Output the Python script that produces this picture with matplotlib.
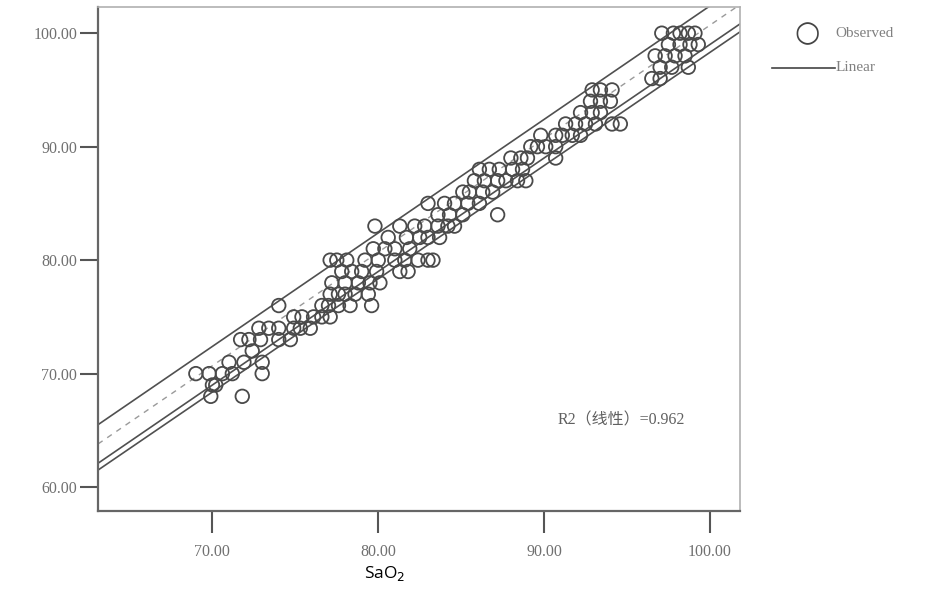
import numpy as np
import matplotlib
matplotlib.use("Agg")
import matplotlib.pyplot as plt

# --- данные ---
# SpO2 уровни (целые) и соответствующие значения SaO2
obs_y = [68, 68,
         69, 69,
         70, 70, 70, 70, 70,
         71, 71, 71,
         72,
         73, 73, 73, 73, 73,
         74, 74, 74, 74, 74, 74,
         75, 75, 75, 75, 75,
         76, 76, 76, 76, 76, 76,
         77, 77, 77, 77, 77,
         78, 78, 78, 78, 78,
         79, 79, 79, 79, 79, 79,
         80, 80, 80, 80, 80, 80, 80, 80, 80, 80,
         81, 81, 81, 81,
         82, 82, 82, 82, 82,
         83, 83, 83, 83, 83, 83, 83,
         84, 84, 84, 84,
         85, 85, 85, 85, 85,
         86, 86, 86, 86,
         87, 87, 87, 87, 87, 87,
         88, 88, 88, 88, 88,
         89, 89, 89, 89,
         90, 90, 90, 90,
         91, 91, 91, 91, 91,
         92, 92, 92, 92, 92, 92,
         93, 93, 93,
         94, 94, 94,
         95, 95, 95,
         96, 96,
         97, 97, 97,
         98, 98, 98, 98,
         99, 99, 99, 99,
         100, 100, 100, 100, 100]
obs_x = [69.9, 71.8,
         70.0, 70.2,
         69.0, 69.8, 70.6, 71.2, 73.0,
         71.0, 71.9, 73.0,
         72.4,
         71.7, 72.2, 72.9, 74.0, 74.7,
         72.8, 73.4, 74.0, 74.9, 75.3, 75.9,
         74.9, 75.4, 76.1, 76.6, 77.1,
         74.0, 76.6, 77.0, 77.6, 78.3, 79.6,
         77.1, 77.6, 78.0, 78.6, 79.4,
         77.2, 78.0, 78.8, 79.5, 80.1,
         77.8, 78.4, 79.0, 79.9, 81.3, 81.8,
         77.1, 77.5, 78.1, 79.2, 80.0, 81.0, 81.6, 82.4, 83.0, 83.3,
         79.7, 80.4, 81.0, 81.9,
         80.6, 81.7, 82.5, 83.0, 83.7,
         79.8, 81.3, 82.2, 82.8, 83.6, 84.2, 84.6,
         83.6, 84.3, 85.1, 87.2,
         83.0, 84.0, 84.6, 85.4, 86.1,
         85.1, 85.5, 86.3, 86.9,
         85.8, 86.4, 87.2, 87.7, 88.4, 88.9,
         86.1, 86.7, 87.3, 88.1, 88.7,
         88.0, 88.6, 89.0, 90.7,
         89.2, 89.6, 90.1, 90.7,
         89.8, 90.7, 91.1, 91.7, 92.2,
         91.3, 91.9, 92.5, 93.1, 94.1, 94.6,
         92.2, 92.9, 93.4,
         92.8, 93.4, 94.0,
         92.9, 93.4, 94.1,
         96.5, 97.0,
         97.0, 97.7, 98.7,
         96.7, 97.3, 97.9, 98.5,
         97.5, 98.2, 98.8, 99.3,
         97.1, 97.8, 98.2, 98.7, 99.1]

# концы линий (x) и значения y на концах
line_x = [63.1, 101.8]
upper_y = [65.5, 104.2]
ref_y = [63.8, 102.5]
lower1_y = [62.1, 100.8]
lower2_y = [61.5, 100.1]

fig = plt.figure(figsize=(9.3, 5.9), dpi=100)
ax = fig.add_axes([0.1054, 0.134, 0.690, 0.854])

ax.scatter(obs_x, obs_y, s=95, facecolors='none', edgecolors='#4a4a4a',
           linewidths=1.3, zorder=3)

ax.plot(line_x, upper_y, color='#505050', lw=1.2)
ax.plot(line_x, ref_y, color='#9a9a9a', lw=1.0, ls=(0, (4, 4)))
ax.plot(line_x, lower1_y, color='#505050', lw=1.2)
ax.plot(line_x, lower2_y, color='#505050', lw=1.2)

ax.set_xlim(63.1, 101.8)
ax.set_ylim(57.9, 102.3)

ax.set_xticks([70, 80, 90, 100])
ax.set_yticks([60, 70, 80, 90, 100])
ax.set_xticklabels(['70.00', '80.00', '90.00', '100.00'])
ax.set_yticklabels(['60.00', '70.00', '80.00', '90.00', '100.00'])

for lab in ax.get_xticklabels() + ax.get_yticklabels():
    lab.set_family('Liberation Serif')
    lab.set_fontsize(11.5)
    lab.set_color('#707070')

ax.tick_params(axis='x', length=16, width=1.5, color='#555555', pad=8)
ax.tick_params(axis='y', length=13, width=1.5, color='#555555', pad=2)

for side in ['top', 'right']:
    ax.spines[side].set_color('#b0b0b0')
    ax.spines[side].set_linewidth(1.2)
for side in ['left', 'bottom']:
    ax.spines[side].set_color('#666666')
    ax.spines[side].set_linewidth(1.6)

ax.text(0.716, 0.18, 'R2（线性）=0.962', transform=ax.transAxes,
        family=['Liberation Serif', 'Noto Sans CJK SC'], fontsize=11.5,
        color='#606060', va='center')

# SaO2 подпись оси
fig.text(0.414, 0.028, 'SaO$_2$', fontsize=12.5, family='Open Sans',
         color='black', ha='center', va='center')

# легенда
fig.text(0.868, 0.944, '○', fontsize=21, color='#444444', ha='center',
         va='center', family='DejaVu Sans')
fig.text(0.898, 0.944, 'Observed', fontsize=11, color='#808080',
         va='center', family='Liberation Serif')
fig.lines.append(plt.Line2D([0.830, 0.898], [0.885, 0.885],
                            transform=fig.transFigure, color='#444444', lw=1.2))
fig.text(0.898, 0.885, 'Linear', fontsize=11, color='#808080',
         va='center', family='Liberation Serif')

fig.savefig('out.png', dpi=100)
